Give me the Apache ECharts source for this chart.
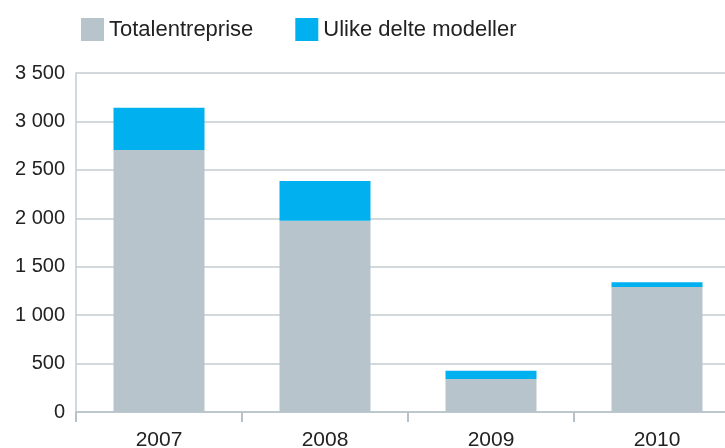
<!DOCTYPE html>
<html>
<head>
<meta charset="utf-8">
<script src="https://cdn.jsdelivr.net/npm/echarts@6/dist/echarts.min.js"></script>
<style>
  html, body { margin: 0; padding: 0; background: #fff; }
  #chart { width: 725px; height: 448px; }
</style>
</head>
<body>
<div id="chart"></div>
<script>
var years = ['2007', '2008', '2009', '2010'];
var totalentreprise = [2705, 1975, 340, 1290];
var ulikeModeller = [435, 410, 85, 50];
var yTicks = [0, 500, 1000, 1500, 2000, 2500, 3000, 3500];

var font = '"Liberation Sans", Helvetica, Arial, sans-serif';

function fmt(v) {
    // norsk tusenskille med mellomrom
    return String(v).replace(/\B(?=(\d{3})+(?!\d))/g, ' ');
}

var myChart = echarts.init(document.getElementById('chart'));
var option = {
    backgroundColor: '#ffffff',
    animation: false,
    color: ['#b8c4cc', '#00b0ef'],
    legend: {
        left: 76,
        top: 13,
        itemWidth: 23,
        itemHeight: 23,
        itemGap: 42,
        icon: 'rect',
        textStyle: { fontFamily: font, fontSize: 22, color: '#222' },
        data: ['Totalentreprise', 'Ulike delte modeller']
    },
    grid: {
        left: 76,
        top: 73,
        width: 664,
        bottom: 36,
        containLabel: false,
        outerBoundsMode: 'none'
    },
    xAxis: {
        type: 'category',
        data: years,
        axisLine: { show: true, lineStyle: { color: '#b6c1c9', width: 1.5 } },
        axisTick: { show: true, length: 10, lineStyle: { color: '#b6c1c9', width: 2 } },
        axisLabel: { fontFamily: font, fontSize: 21, color: '#222', margin: 18 }
    },
    yAxis: {
        type: 'value',
        min: yTicks[0],
        max: yTicks[yTicks.length - 1],
        interval: 500,
        axisLine: { show: true, lineStyle: { color: '#c3ccd2', width: 1.5 } },
        axisTick: { show: false },
        splitLine: { show: true, lineStyle: { color: '#c3ccd2', width: 1.5 } },
        axisLabel: {
            fontFamily: font, fontSize: 20, color: '#222', margin: 11,
            padding: [0, 0, 9, 0],
            formatter: function (v) { return fmt(v); }
        }
    },
    series: [
        {
            name: 'Totalentreprise',
            type: 'bar',
            stack: 'total',
            barWidth: 91,
            data: totalentreprise
        },
        {
            name: 'Ulike delte modeller',
            type: 'bar',
            stack: 'total',
            barWidth: 91,
            data: ulikeModeller
        }
    ]
};
myChart.setOption(option);
</script>
</body>
</html>
